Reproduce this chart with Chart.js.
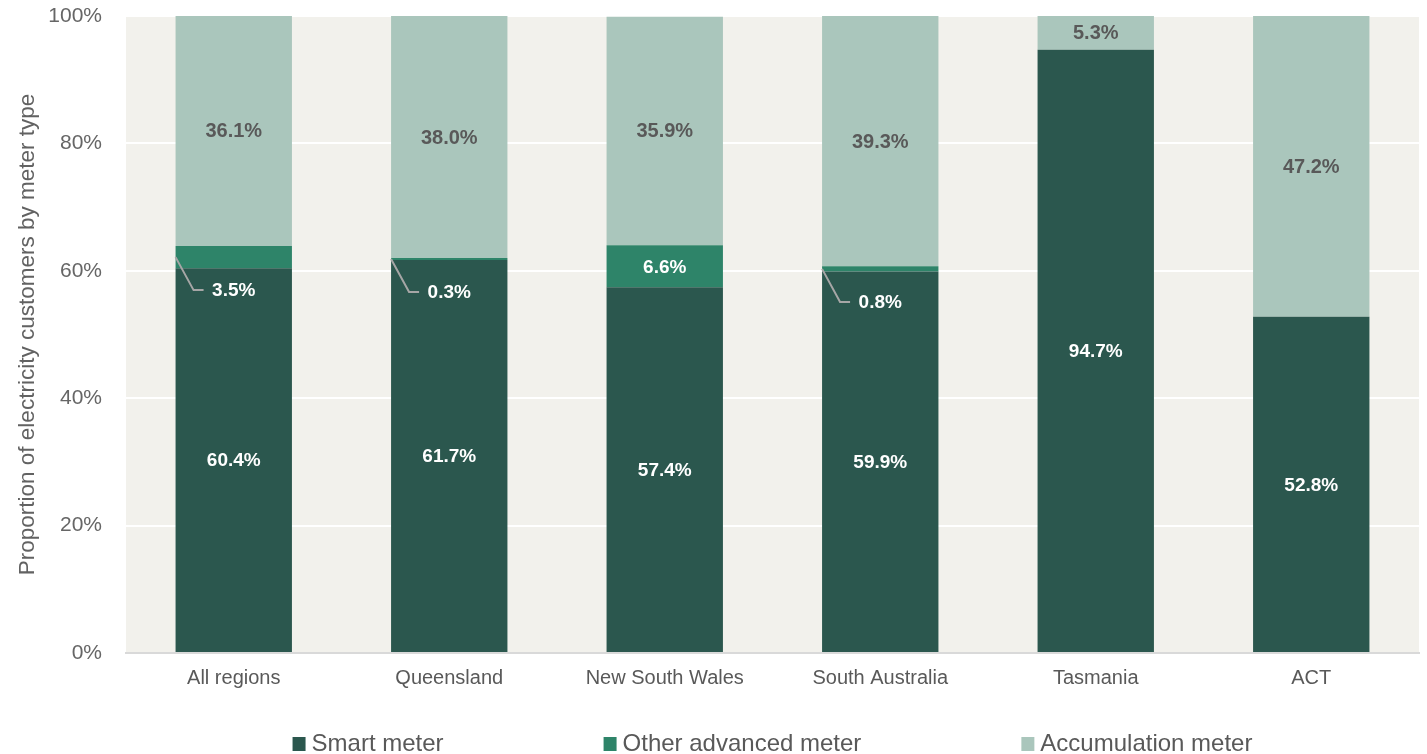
<!DOCTYPE html>
<html>
<head>
<meta charset="utf-8">
<title>Electricity customers by meter type</title>
<script src="https://cdn.jsdelivr.net/npm/chart.js@4"></script>
<style>
    html, body { margin: 0; padding: 0; background: #ffffff; overflow: hidden; }
    canvas { display: block; }
</style>
</head>
<body>
<canvas id="meterChart" width="1427" height="754"></canvas>
<script>
// Parts des clients par type de compteur, par région (en %)
const categories = ['All regions', 'Queensland', 'New South Wales', 'South Australia', 'Tasmania', 'ACT'];
const smartMeter = [60.4, 61.7, 57.4, 59.9, 94.7, 52.8];
const otherAdvanced = [3.5, 0.3, 6.6, 0.8, 0, 0];
const accumulation = [36.1, 38.0, 35.9, 39.3, 5.3, 47.2];
const seriesNames = ['Smart meter', 'Other advanced meter', 'Accumulation meter'];
const seriesColors = ['#2B574E', '#2E8469', '#AAC6BC'];

const FONT = '"Liberation Sans", Arial, sans-serif';
const TEXT_GREY = '#595959';
const PLOT_BG = '#F2F1EC';

// Fond de la zone de tracé
const plotBackground = {
    id: 'plotBackground',
    beforeDraw(chart) {
        const { ctx, chartArea: a } = chart;
        ctx.save();
        ctx.fillStyle = PLOT_BG;
        ctx.fillRect(a.left, a.top, a.right - a.left, a.bottom - a.top);
        ctx.restore();
    }
};

// Étiquettes de valeur, avec renvoi pour les petits segments
const valueLabels = {
    id: 'valueLabels',
    afterDatasetsDraw(chart) {
        const ctx = chart.ctx;
        ctx.save();
        ctx.textBaseline = 'middle';
        chart.data.datasets.forEach((ds, di) => {
            const meta = chart.getDatasetMeta(di);
            meta.data.forEach((bar, i) => {
                const v = ds.data[i];
                if (!v) return;
                const text = v.toFixed(1) + '%';
                const mid = (bar.y + bar.base) / 2;
                const left = bar.x - bar.width / 2;
                if (di === 2) {
                    ctx.font = 'bold 20px ' + FONT;
                    ctx.fillStyle = TEXT_GREY;
                } else {
                    ctx.font = 'bold 19px ' + FONT;
                    ctx.fillStyle = '#ffffff';
                }
                ctx.textAlign = 'center';
                if (di === 1 && v < 5) {
                    const ly = mid + 33;
                    ctx.strokeStyle = '#A6A6A6';
                    ctx.lineWidth = 2;
                    ctx.beginPath();
                    ctx.moveTo(left, mid);
                    ctx.lineTo(left + 18, ly);
                    ctx.lineTo(left + 28, ly);
                    ctx.stroke();
                    ctx.fillText(text, bar.x, ly + 1);
                } else {
                    ctx.fillText(text, bar.x, mid + 1);
                }
            });
        });
        ctx.restore();
    }
};

// Légende en bas, centrée sur la zone de tracé
const bottomLegend = {
    id: 'bottomLegend',
    afterDraw(chart) {
        const { ctx, chartArea: a } = chart;
        const box = 13, gapBox = 6, gapItem = 160, y = 743;
        ctx.save();
        ctx.font = '24px ' + FONT;
        ctx.textBaseline = 'middle';
        ctx.textAlign = 'left';
        const widths = seriesNames.map(n => box + gapBox + ctx.measureText(n).width);
        const total = widths.reduce((s, w) => s + w, 0) + gapItem * (widths.length - 1);
        let x = (a.left + a.right) / 2 - total / 2;
        seriesNames.forEach((name, i) => {
            ctx.fillStyle = seriesColors[i];
            ctx.fillRect(x, y - 6, box, box + 1);
            ctx.fillStyle = TEXT_GREY;
            ctx.fillText(name, x + box + gapBox, y + 1);
            x += widths[i] + gapItem;
        });
        ctx.restore();
    }
};

const series = [smartMeter, otherAdvanced, accumulation];

new Chart(document.getElementById('meterChart').getContext('2d'), {
    type: 'bar',
    data: {
        labels: categories,
        datasets: series.map((data, i) => ({
            label: seriesNames[i],
            data: data,
            backgroundColor: seriesColors[i],
            borderWidth: 0,
            barPercentage: 0.54,
            categoryPercentage: 1
        }))
    },
    options: {
        responsive: false,
        animation: false,
        layout: { padding: { top: 16, right: 8, bottom: 0, left: 0 } },
        plugins: {
            legend: { display: false },
            tooltip: { enabled: false }
        },
        scales: {
            x: {
                stacked: true,
                grid: { display: false, drawTicks: false },
                border: { display: true, color: '#D9D9D9', width: 2 },
                ticks: { color: TEXT_GREY, font: { family: FONT, size: 20 }, padding: 13, maxRotation: 0 },
                afterFit: s => { s.height = 101; }
            },
            y: {
                stacked: true,
                min: 0,
                max: 100,
                grid: { color: '#ffffff', lineWidth: 2, drawTicks: false },
                border: { display: false },
                ticks: {
                    stepSize: 20,
                    color: '#666666',
                    font: { family: FONT, size: 21 },
                    padding: 24,
                    callback: v => v + '%'
                },
                title: {
                    display: true,
                    text: 'Proportion of electricity customers by meter type',
                    color: '#626262',
                    font: { family: FONT, size: 22.5 },
                    padding: { top: 14, bottom: 0 }
                },
                // largeur fixe et pas de débord vertical des libellés
                afterFit: s => {
                    s.width = 126;
                    s.paddingTop = 0;
                    s.paddingBottom = 0;
                }
            }
        }
    },
    plugins: [plotBackground, valueLabels, bottomLegend]
});
</script>
</body>
</html>
